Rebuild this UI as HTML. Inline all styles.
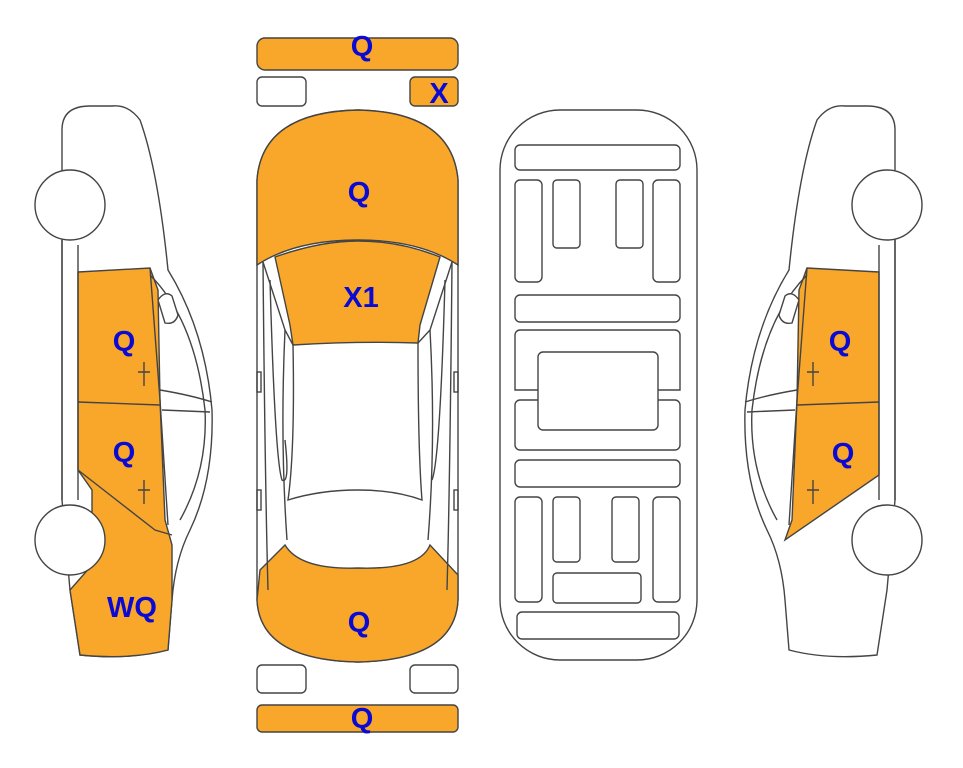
<!DOCTYPE html>
<html><head><style>
html,body{margin:0;padding:0;background:#fff;width:963px;height:768px;overflow:hidden}
text{font-family:"Liberation Sans",sans-serif;font-weight:bold;font-size:29px;fill:#0a0ad2;text-anchor:middle}
</style></head><body>
<svg width="963" height="768" viewBox="0 0 963 768" xmlns="http://www.w3.org/2000/svg">
<g stroke="#444" stroke-width="1.4" fill="none">
<g id="side">
<path d="M62,130 Q62,106 90,106 L112,106 Q128,104 140,120 Q158,170 168,270 Q205,330 212,410 Q214,480 190,530 Q175,560 172,600 L168,650 Q130,660 80,655 L70,590 L62,500 Z" fill="#fff"/>
<path d="M78,272 L150,268 L158,290 L160,400 L165,520 L172,545 L172,600 L168,650 Q130,660 80,655 L70,590 L92,565 L92,490 L78,470 Z" fill="#F9A72B"/>
<line x1="78" y1="402" x2="160" y2="405"/>
<path d="M150,268 L160,400 L168,525"/>
<path d="M78,470 L155,530 L172,535"/>
<path d="M150,275 Q195,320 205,410 Q208,470 180,520"/>
<path d="M160,390 Q190,395 212,402"/>
<path d="M162,410 L210,412"/>
<path d="M158,300 Q165,290 172,296 L178,315 Q175,325 165,323 Z" fill="#fff"/>
<path d="M138,372 h12 M144,362 v24 M138,490 h12 M144,480 v24"/>
<line x1="62" y1="240" x2="62" y2="500"/>
<line x1="78" y1="245" x2="78" y2="500"/>
<circle cx="70" cy="205" r="35" fill="#fff"/>
<circle cx="70" cy="540" r="35" fill="#fff"/>
</g>
<g transform="translate(957,0) scale(-1,1)">
<path d="M62,130 Q62,106 90,106 L112,106 Q128,104 140,120 Q158,170 168,270 Q205,330 212,410 Q214,480 190,530 Q175,560 172,600 L168,650 Q130,660 80,655 L70,590 L62,500 Z" fill="#fff"/>
<path d="M78,272 L150,268 L158,290 L160,400 L165,520 L172,540 L78,475 Z" fill="#F9A72B"/>
<line x1="78" y1="402" x2="160" y2="405"/>
<path d="M150,268 L160,400 L168,525"/>
<path d="M150,275 Q195,320 205,410 Q208,470 180,520"/>
<path d="M160,390 Q190,395 212,402"/>
<path d="M162,410 L210,412"/>
<path d="M158,300 Q165,290 172,296 L178,315 Q175,325 165,323 Z" fill="#fff"/>
<path d="M138,372 h12 M144,362 v24 M138,490 h12 M144,480 v24"/>
<line x1="62" y1="240" x2="62" y2="500"/>
<line x1="78" y1="245" x2="78" y2="500"/>
<circle cx="70" cy="205" r="35" fill="#fff"/>
<circle cx="70" cy="540" r="35" fill="#fff"/>
</g>
<rect x="257" y="38" width="201" height="32" rx="8" fill="#F9A72B"/>
<rect x="257" y="77" width="49" height="29" rx="5" fill="#fff"/>
<rect x="410" y="77" width="48" height="29" rx="5" fill="#F9A72B"/>
<rect x="257" y="665" width="49" height="28" rx="5" fill="#fff"/>
<rect x="410" y="665" width="48" height="28" rx="5" fill="#fff"/>
<rect x="257" y="705" width="201" height="27" rx="5" fill="#F9A72B"/>
<path d="M257,265 L257,180 Q262,112 358,110 Q452,112 458,180 L458,265 L458,600 Q455,660 358,662 Q260,660 257,600 Z" fill="#fff"/>
<path d="M257,265 L257,180 Q262,112 358,110 Q452,112 458,180 L458,265 Q420,240 358,240 Q295,240 257,265 Z" fill="#F9A72B"/>
<path d="M275,257 Q320,241 358,241 Q400,241 440,257 L420,325 L418,343 Q358,341 293,345 L290,325 Z" fill="#F9A72B"/>
<path d="M260,570 L285,545 Q300,570 358,568 Q420,570 430,545 L458,575 L458,600 Q455,660 358,662 Q260,660 257,600 Z" fill="#F9A72B"/>
<path d="M293,345 L285,330 L263,262 M418,343 L430,330 L452,262"/>
<path d="M285,330 Q280,440 287,540 M430,330 Q436,440 428,540"/>
<path d="M293,345 Q295,450 288,500 Q320,490 358,490 Q395,490 422,500 Q418,450 418,343"/>
<path d="M263,262 Q265,480 268,590 M452,262 Q450,480 447,590"/>
<path d="M270,280 Q275,460 282,480 Q290,485 285,440 M445,280 Q440,460 432,480"/>
<rect x="257" y="372" width="4" height="20"/><rect x="454" y="372" width="4" height="20"/>
<rect x="257" y="490" width="4" height="20"/><rect x="454" y="490" width="4" height="20"/>
<rect x="500" y="110" width="197" height="550" rx="60" fill="#fff"/>
<rect x="515" y="145" width="165" height="25" rx="5"/>
<rect x="515" y="180" width="27" height="102" rx="5"/>
<rect x="553" y="180" width="27" height="68" rx="4"/>
<rect x="616" y="180" width="27" height="68" rx="4"/>
<rect x="653" y="180" width="27" height="102" rx="5"/>
<rect x="515" y="295" width="165" height="27" rx="5"/>
<path d="M520,330 h155 a5,5 0 0 1 5,5 v55 h-165 v-55 a5,5 0 0 1 5,-5z"/>
<rect x="515" y="400" width="165" height="50" rx="5"/>
<rect x="538" y="352" width="120" height="78" rx="5" fill="#fff"/>
<rect x="515" y="460" width="165" height="27" rx="5"/>
<rect x="515" y="497" width="27" height="105" rx="5"/>
<rect x="553" y="497" width="27" height="65" rx="4"/>
<rect x="612" y="497" width="27" height="65" rx="4"/>
<rect x="653" y="497" width="27" height="105" rx="5"/>
<rect x="553" y="573" width="88" height="30" rx="4"/>
<rect x="517" y="612" width="162" height="27" rx="5"/>
</g>
<text x="362" y="56">Q</text>
<text x="439" y="103">X</text>
<text x="359" y="202">Q</text>
<text x="361" y="307">X1</text>
<text x="359" y="632">Q</text>
<text x="362" y="728">Q</text>
<text x="124" y="351">Q</text>
<text x="124" y="462">Q</text>
<text x="132" y="617">WQ</text>
<text x="840" y="351">Q</text>
<text x="843" y="463">Q</text>
</svg>
</body></html>
